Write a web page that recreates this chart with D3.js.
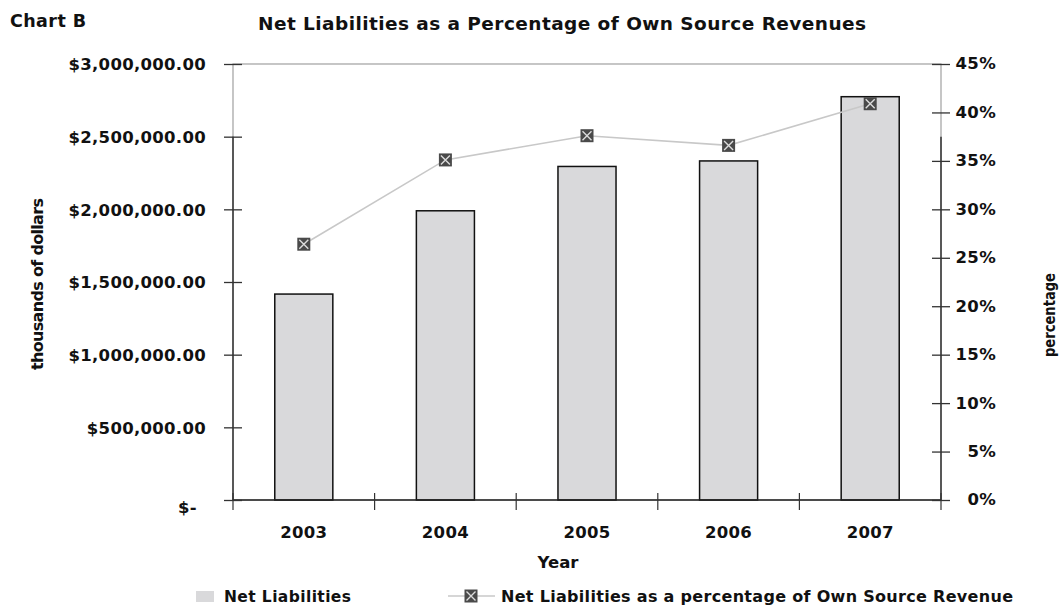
<!DOCTYPE html>
<html>
<head>
<meta charset="utf-8">
<script src="https://cdn.jsdelivr.net/npm/d3@7"></script>
<style>
  html, body { margin: 0; padding: 0; background: #fff; }
  svg { display: block; }
  text { font-family: "DejaVu Sans", "Liberation Sans", Arial, sans-serif; font-weight: bold; fill: #111; }
</style>
</head>
<body>
<svg id="chart" width="1059" height="607"></svg>
<script>
// Chart data
const years = ["2003", "2004", "2005", "2006", "2007"];
const netLiabilities = [1417000, 1990000, 2295000, 2333000, 2775000];
const pctOwnSource = [26.4, 35.1, 37.6, 36.6, 40.9];
const leftTicks = [0, 500000, 1000000, 1500000, 2000000, 2500000, 3000000];
const rightTicks = [0, 5, 10, 15, 20, 25, 30, 35, 40, 45];

const svg = d3.select("#chart");
const m = { left: 233, right: 941, top: 64, bottom: 500 };

const x = d3.scaleBand().domain(years).range([m.left, m.right]).paddingInner(0.59).paddingOuter(0.295);
const xEdge = d3.scaleLinear().domain([0, years.length]).range([m.left, m.right]);
const yL = d3.scaleLinear().domain([0, 3000000]).range([m.bottom, m.top]);
const yR = d3.scaleLinear().domain([0, 45]).range([m.bottom, m.top]);

const money = v => v === 0 ? "$-" : "$" + d3.format(",.2f")(v);
const tickFont = sel => sel.style("font-size", "16.5px").style("letter-spacing", "0.3px");

// Plot frame
svg.append("rect")
  .attr("x", m.left).attr("y", m.top)
  .attr("width", m.right - m.left).attr("height", m.bottom - m.top)
  .attr("fill", "none").attr("stroke", "#a0a0a0").attr("stroke-width", 1.2);

// Bars
svg.append("g").selectAll("rect").data(years).join("rect")
  .attr("x", d => x(d))
  .attr("y", (d, i) => yL(netLiabilities[i]))
  .attr("width", x.bandwidth())
  .attr("height", (d, i) => yL(0) - yL(netLiabilities[i]))
  .attr("fill", "#d9d9db")
  .attr("stroke", "#111").attr("stroke-width", 1.5);

// Axis lines (darker lower section)
svg.append("line").attr("x1", m.left).attr("x2", m.left)
  .attr("y1", yL(0)).attr("y2", yL(2500000)).attr("stroke", "#333").attr("stroke-width", 1.5);
svg.append("line").attr("x1", m.right).attr("x2", m.right)
  .attr("y1", yL(0)).attr("y2", yL(2500000)).attr("stroke", "#333").attr("stroke-width", 1.5);
svg.append("line").attr("x1", m.left).attr("x2", m.right)
  .attr("y1", m.bottom).attr("y2", m.bottom).attr("stroke", "#222").attr("stroke-width", 1.5);

// Left axis
const gL = svg.append("g").attr("transform", `translate(${m.left},0)`)
  .call(d3.axisLeft(yL).tickValues(leftTicks).tickFormat(money).tickSize(0).tickPadding(0));
gL.select(".domain").remove();
gL.selectAll(".tick line").attr("x1", -9).attr("x2", 9).attr("stroke", "#333").attr("stroke-width", 1.3);
gL.selectAll(".tick text").attr("x", d => d === 0 ? -36 : -27).attr("dy", d => d === 0 ? "0.75em" : "0.36em")
  .attr("fill", "#111").call(tickFont);

// Right axis
const gR = svg.append("g").attr("transform", `translate(${m.right},0)`)
  .call(d3.axisRight(yR).tickValues(rightTicks).tickFormat(d => d + "%").tickSize(0).tickPadding(0));
gR.select(".domain").remove();
gR.selectAll(".tick line").attr("x1", -9).attr("x2", 9).attr("stroke", "#333").attr("stroke-width", 1.3);
gR.selectAll(".tick text").attr("x", 55).attr("text-anchor", "end").attr("dy", "0.3em")
  .attr("fill", "#111").call(tickFont);

// Bottom axis ticks at band edges
svg.append("g").selectAll("line").data(d3.range(years.length + 1)).join("line")
  .attr("x1", d => xEdge(d)).attr("x2", d => xEdge(d))
  .attr("y1", m.bottom - 7).attr("y2", m.bottom + 10)
  .attr("stroke", "#333").attr("stroke-width", 1.2);
svg.append("g").selectAll("text").data(years).join("text")
  .attr("x", d => x(d) + x.bandwidth() / 2).attr("y", 538)
  .attr("text-anchor", "middle").call(tickFont)
  .text(d => d);

// Percentage line
const line = d3.line().x((d, i) => x(years[i]) + x.bandwidth() / 2).y(d => yR(d));
svg.append("path").datum(pctOwnSource).attr("d", line)
  .attr("fill", "none").attr("stroke", "#c8c8c8").attr("stroke-width", 1.6);

function marker(g, cx, cy) {
  const s = 13;
  g.append("rect").attr("x", cx - s / 2).attr("y", cy - s / 2).attr("width", s).attr("height", s)
    .attr("fill", "#4a4a4a");
  const k = 4.5;
  g.append("path")
    .attr("d", `M${cx - k},${cy - k}L${cx + k},${cy + k}M${cx + k},${cy - k}L${cx - k},${cy + k}`)
    .attr("stroke", "#dcdcdc").attr("stroke-width", 1.4).attr("fill", "none");
}
const gm = svg.append("g");
pctOwnSource.forEach((v, i) => marker(gm, x(years[i]) + x.bandwidth() / 2, yR(v)));

// Titles
svg.append("text").attr("x", 10).attr("y", 27)
  .style("font-size", "17.5px").attr("textLength", 76).attr("lengthAdjust", "spacing").text("Chart B");
svg.append("text").attr("x", 258).attr("y", 30)
  .style("font-size", "18.5px").attr("textLength", 608).attr("lengthAdjust", "spacing")
  .text("Net Liabilities as a Percentage of Own Source Revenues");

// Axis titles
svg.append("text").attr("transform", "translate(43,284) rotate(-90)").attr("text-anchor", "middle")
  .style("font-size", "16px").attr("textLength", 172).attr("lengthAdjust", "spacing")
  .text("thousands of dollars");
svg.append("text").attr("transform", "translate(1055,315) rotate(-90)").attr("text-anchor", "middle")
  .style("font-size", "16px").attr("textLength", 84).attr("lengthAdjust", "spacingAndGlyphs")
  .text("percentage");
svg.append("text").attr("x", 558).attr("y", 568).attr("text-anchor", "middle")
  .style("font-size", "16.5px").text("Year");

// Legend
const lg = svg.append("g");
lg.append("rect").attr("x", 196).attr("y", 591).attr("width", 18).attr("height", 11).attr("fill", "#d9d9db");
lg.append("text").attr("x", 224).attr("y", 602)
  .style("font-size", "15.5px").attr("textLength", 127).attr("lengthAdjust", "spacing")
  .text("Net Liabilities");
lg.append("line").attr("x1", 448).attr("x2", 495).attr("y1", 596).attr("y2", 596)
  .attr("stroke", "#c8c8c8").attr("stroke-width", 1.6);
marker(lg, 471, 596);
lg.append("text").attr("x", 501).attr("y", 602)
  .style("font-size", "16px").attr("textLength", 512).attr("lengthAdjust", "spacing")
  .text("Net Liabilities as a percentage of Own Source Revenue");
</script>
</body>
</html>
